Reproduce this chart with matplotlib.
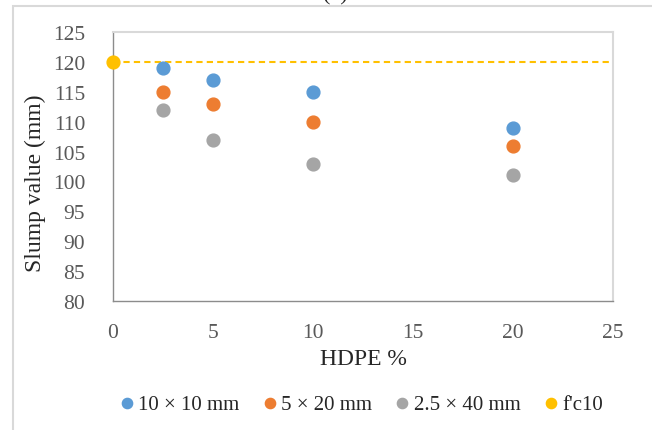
import matplotlib.pyplot as plt
from matplotlib.patches import Rectangle

plt.rcParams['font.family'] = ['Liberation Serif', 'DejaVu Serif']

# data
hdpe = [2.5, 5, 10, 20]
s10x10 = [119, 117, 115, 109]
s5x20 = [115, 113, 110, 106]
s25x40 = [112, 107, 103, 101]
fc10_x = [0]
fc10_y = [120]
ref_line_x = [0, 25]
ref_line_y = [120, 120]

xticks = [0, 5, 10, 15, 20, 25]
yticks = [80, 85, 90, 95, 100, 105, 110, 115, 120, 125]

fig = plt.figure(figsize=(6.52, 4.31), dpi=100)
ax = fig.add_axes([113 / 652, 1 - 302 / 431, 500 / 652, 269 / 431])

# outer chart border (cropped at right and bottom)
fig.patches.append(Rectangle((13 / 652, -0.1), 1.0, 1 - 7 / 431 + 0.1,
                             transform=fig.transFigure, fill=False,
                             edgecolor='#D9D9D9', linewidth=1.5))
fig.text(335 / 652, 1 - 5 / 431, '(a)', ha='center', va='bottom',
         fontsize=16, color='#262626')

ax.plot(ref_line_x, ref_line_y, color='#FFC000', linestyle=(0, (3, 2)),
        linewidth=1.5, zorder=2)
ax.scatter(hdpe, s10x10, s=85, color='#5B9BD5', label='10 × 10 mm', zorder=3)
ax.scatter(hdpe, s5x20, s=85, color='#ED7D31', label='5 × 20 mm', zorder=3)
ax.scatter(hdpe, s25x40, s=85, color='#A5A5A5', label='2.5 × 40 mm', zorder=3)
ax.scatter(fc10_x, fc10_y, s=85, color='#FFC000', label="f'c10", zorder=4,
           clip_on=False)

ax.set_xlim(0, 25)
ax.set_ylim(80, 125)
ax.set_xticks(xticks)
ax.set_yticks(yticks)
ax.tick_params(length=0, labelsize=15.5, labelcolor='#595959')
ax.tick_params(axis='x', pad=16)
ax.tick_params(axis='y', pad=20)

for side in ['left', 'bottom']:
    ax.spines[side].set_color('#8C8C8C')
    ax.spines[side].set_linewidth(1.0)
for side in ['top', 'right']:
    ax.spines[side].set_color('#D9D9D9')
    ax.spines[side].set_linewidth(1.5)

ax.set_xlabel('HDPE %', fontsize=17, color='#262626', labelpad=4)
fig.text(35 / 652, 1 - 183 / 431, 'Slump value (mm)', rotation=90,
         ha='center', va='center', fontsize=17, color='#262626')

fig.legend(loc='center', bbox_to_anchor=(359 / 652, 1 - 405 / 431), ncol=4,
           frameon=False, fontsize=15, markerscale=0.8, handletextpad=0.0,
           columnspacing=0.9, handlelength=1.1, labelcolor='#262626')

fig.savefig('out.png', dpi=100)
